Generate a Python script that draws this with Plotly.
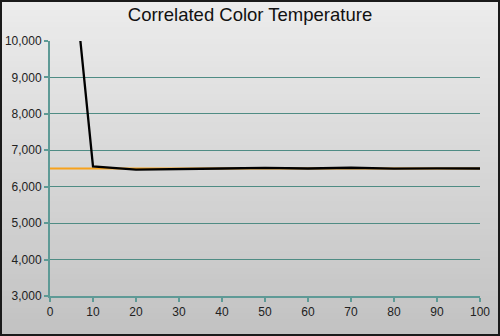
import plotly.graph_objects as go

# Data
x_levels = [0, 10, 20, 30, 40, 50, 60, 70, 80, 90, 100]
cct_measured = [18300, 6560, 6470, 6495, 6500, 6515, 6500, 6520, 6495, 6505, 6500]
target_x = [0, 100]
target_cct = [6500, 6500]

W, H = 500, 336
ML, MR, MT, MB = 50, 20, 41, 40
PW, PH = W - ML - MR, H - MT - MB

fig = go.Figure()
fig.add_trace(go.Scatter(x=target_x, y=target_cct, mode="lines",
                         line=dict(color="#f7a21b", width=2), showlegend=False))
fig.add_trace(go.Scatter(x=x_levels, y=cct_measured, mode="lines",
                         line=dict(color="#000000", width=2.3), showlegend=False))

# background gradient (decoration)
shapes = []
n = 60
x0p, x1p = -ML / PW, 1 + MR / PW
y0p, y1p = -MB / PH, 1 + MT / PH
top = (236, 236, 236)
bot = (194, 194, 194)
for i in range(n):
    t = i / (n - 1)
    c = tuple(int(round(top[k] + (bot[k] - top[k]) * t)) for k in range(3))
    ya = y1p - (y1p - y0p) * i / n
    yb = y1p - (y1p - y0p) * (i + 1) / n
    shapes.append(dict(type="rect", xref="paper", yref="paper", x0=x0p, x1=x1p,
                       y0=yb - 0.002, y1=ya + 0.002, fillcolor="rgb(%d,%d,%d)" % c,
                       line=dict(width=0), layer="below"))
shapes.append(dict(type="rect", xref="paper", yref="paper", x0=x0p + 1 / PW, x1=x1p - 1 / PW,
                   y0=y0p + 1 / PH, y1=y1p - 1 / PH,
                   line=dict(color="#1a1a1a", width=2), fillcolor="rgba(0,0,0,0)", layer="above"))

fig.update_layout(
    width=W, height=H,
    margin=dict(l=ML, r=MR, t=MT, b=MB, autoexpand=False),
    paper_bgcolor="#d8d8d8",
    plot_bgcolor="rgba(0,0,0,0)",
    font=dict(family="Liberation Sans, Arial, sans-serif", color="#222222", size=12),
    title=dict(text="Correlated Color Temperature", x=0.5, xanchor="center",
               xref="container", yref="container", y=1 - 15 / H, yanchor="middle",
               font=dict(size=18.5, color="#111111")),
    shapes=shapes,
    xaxis=dict(range=[0, 100], tickvals=list(range(0, 101, 10)),
               showgrid=False, zeroline=False, automargin=False,
               showline=True, linecolor="#5e9a96", linewidth=2,
               ticks="outside", ticklen=4, tickcolor="#5e9a96", tickwidth=2,
               tickfont=dict(size=12, color="#222222"), fixedrange=True),
    yaxis=dict(range=[3000, 10000], tickvals=list(range(3000, 10001, 1000)),
               tickformat=",", showgrid=True, gridcolor="#4f8c84", gridwidth=1,
               zeroline=False, automargin=False,
               showline=True, linecolor="#5e9a96", linewidth=2,
               ticks="outside", ticklen=4, tickcolor="#5e9a96", tickwidth=2,
               tickfont=dict(size=12, color="#222222"), fixedrange=True),
)

fig.write_html("out.html", config={"displayModeBar": False},
               post_script="document.body.style.margin='0';")
